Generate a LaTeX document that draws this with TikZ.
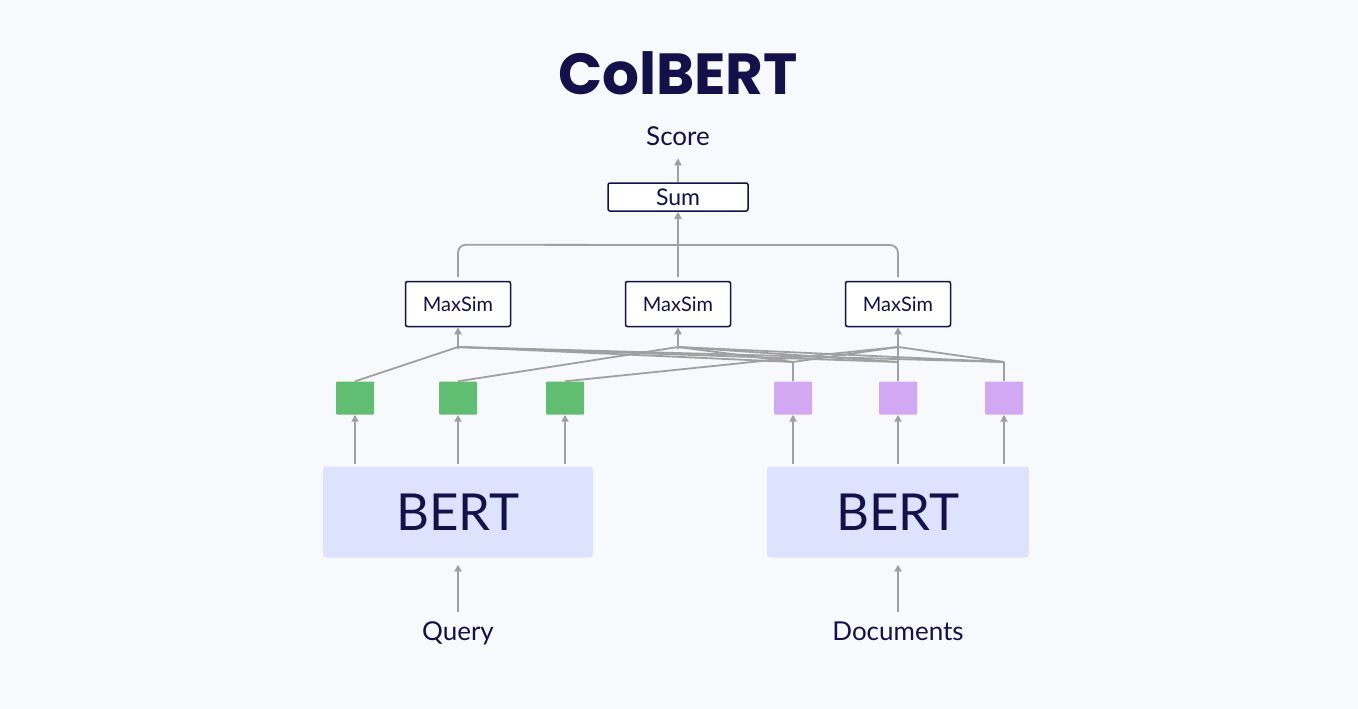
\documentclass[tikz,border=0pt]{standalone}
\usepackage{fontspec}
\setmainfont{Lato}
\newfontfamily\titlefont{Poppins}
\usetikzlibrary{arrows.meta,calc}
\definecolor{bg}{HTML}{F7F9FC}
\definecolor{ink}{HTML}{14104A}
\definecolor{ln}{HTML}{A0A0A0}
\definecolor{gr}{HTML}{60BD72}
\definecolor{pu}{HTML}{D3A8F2}
\definecolor{bb}{HTML}{DDE3FD}
\begin{document}
\begin{tikzpicture}[x=1pt,y=-1pt,
  txt/.style={text=ink,inner sep=0pt},
  box/.style={draw=ink,line width=1.5pt,rounded corners=2pt,fill=white,text=ink,font=\fontsize{20}{20}\selectfont},
  tok/.style={minimum width=38pt,minimum height=33pt,inner sep=0pt,rounded corners=1pt},
  bert/.style={fill=bb,rounded corners=3pt,text=ink,font=\fontsize{51}{51}\selectfont},
  ar/.style={draw=ln,line width=1.8pt,-{Triangle[length=7pt,width=7pt]}},
  l/.style={draw=ln,line width=1.8pt}]
\fill[bg] (0,0) rectangle (1358,709);
\useasboundingbox (0,0) rectangle (1358,709);
\node[txt,font=\titlefont\bfseries\fontsize{58}{58}\selectfont] (title) at (678,73) {ColBERT};
\node[txt,font=\fontsize{26}{26}\selectfont,anchor=base] (score) at (678,145) {Score};
\node[box,font=\fontsize{23}{23}\selectfont,minimum width=140pt,minimum height=28pt,inner sep=0pt] (sum) at (678,197) {Sum};
\foreach \n/\x in {m1/458,m2/678,m3/898}
  \node[box,minimum width=105pt,minimum height=45pt,inner sep=0pt] (\n) at (\x,304) {MaxSim};
\foreach \n/\x in {g1/355,g2/458,g3/565}
  \node[tok,fill=gr] (\n) at (\x,398) {};
\foreach \n/\x in {p1/793,p2/898,p3/1004}
  \node[tok,fill=pu] (\n) at (\x,398) {};
\node[bert,minimum width=270pt,minimum height=91pt] (b1) at (458,512) {BERT};
\node[bert,minimum width=262pt,minimum height=91pt] (b2) at (898,512) {BERT};
\node[txt,font=\fontsize{26}{26}\selectfont,anchor=base] (q) at (458,640) {Query};
\node[txt,font=\fontsize{26}{26}\selectfont,anchor=base] (d) at (898,640) {Documents};
% upper
\draw[ar] (sum.north) -- ++(0,-24);
\draw[l,rounded corners=8pt] (m1.north) ++(0,-4) -- ++(0,-32) -- (678,245) -- (898,245) -- (898,277);
\draw[ar] (m2.north) ++(0,-4) -- (sum.south);
% maxsim inputs
\foreach \m in {m1,m2,m3} \draw[ar] (\m.south) ++(0,22) -- (\m.south);
\draw[l] (g1.north) -- (m1.south |- 0,347);
\draw[l] (g2.north) -- (m2.south |- 0,347);
\draw[l] (g3.north) -- (m3.south |- 0,347);
\foreach \p in {p1,p2,p3}{
  \draw[l] (\p.north) -- (\p.north |- 0,362);
  \foreach \m in {m1,m2,m3}
    \draw[l] (\p.north |- 0,362) -- (\m.south |- 0,347);
}
% bert arrows
\foreach \t in {g1,g2,g3}
  \draw[ar] (\t.south |- b1.north) ++(0,-2) -- (\t.south);
\foreach \t in {p1,p2,p3}
  \draw[ar] (\t.south |- b2.north) ++(0,-2) -- (\t.south);
\draw[ar] (458,612) -- ($(b1.south)+(0,7)$);
\draw[ar] (898,612) -- ($(b2.south)+(0,7)$);
\end{tikzpicture}
\end{document}
